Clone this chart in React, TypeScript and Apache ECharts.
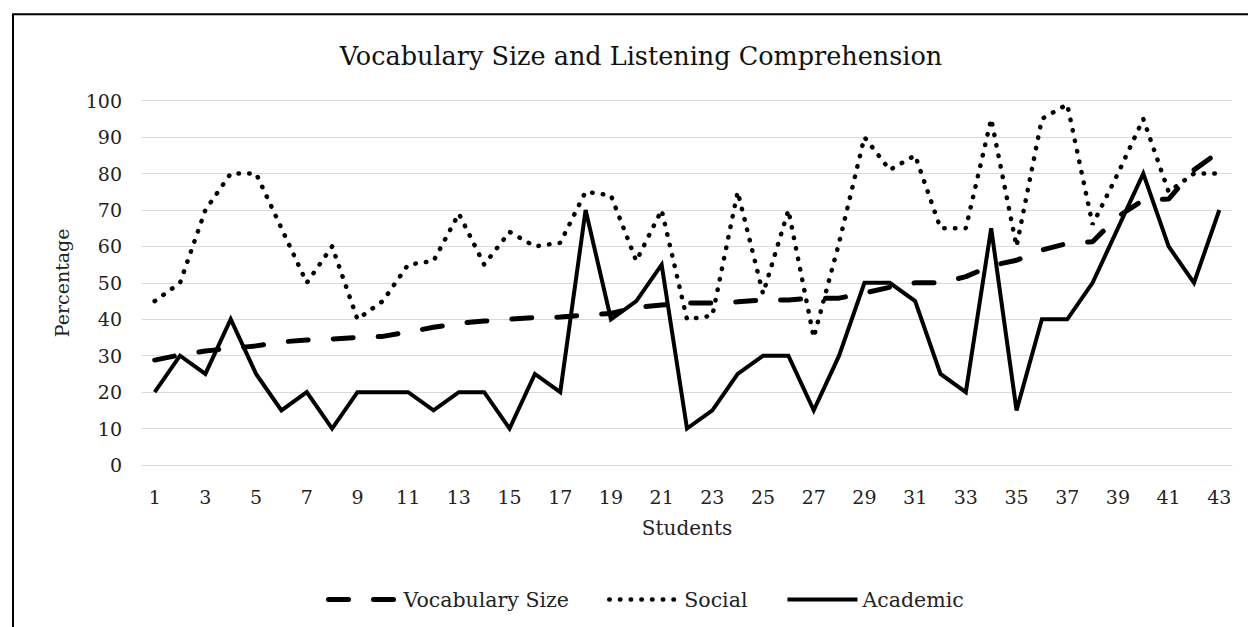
import React, { useEffect, useRef } from "react";
import * as echarts from "echarts";

const students: string[] = Array.from({ length: 43 }, (_, i) => String(i + 1));

const vocabularySize: number[] = [
  28.8, 30.2, 31.3, 32, 32.7, 33.8, 34.3, 34.6, 35, 35.3,
  36.5, 37.8, 38.9, 39.5, 40, 40.5, 40.6, 41.2, 41.6, 43.3,
  43.9, 44.5, 44.5, 44.8, 45.3, 45.3, 45.8, 45.8, 47.2, 48.8,
  50, 50, 51.7, 54.7, 56.2, 59, 60.8, 61.3, 68.2, 72.7,
  73, 81, 86,
];

const social: number[] = [
  45, 50, 70, 80, 80, 65, 50, 60, 40, 45,
  55, 56, 69, 55, 64, 60, 61, 75, 74, 56,
  70, 40, 41, 75, 47, 70, 35, 61, 90, 81,
  85, 65, 65, 95, 60, 95, 99, 66, 80, 95,
  75, 80, 80,
];

const academic: number[] = [
  20, 30, 25, 40, 25, 15, 20, 10, 20, 20,
  20, 15, 20, 20, 10, 25, 20, 70, 40, 45,
  55, 10, 15, 25, 30, 30, 15, 30, 50, 50,
  45, 25, 20, 65, 15, 40, 40, 50, 65, 80,
  60, 50, 70,
];

const FONT = "DejaVu Serif";

export default function App() {
  const ref = useRef<HTMLDivElement>(null);
  useEffect(() => {
    if (!ref.current) return;
    const chart = echarts.init(ref.current, null, { renderer: "svg" });
    chart.setOption({
      animation: false,
      backgroundColor: "#ffffff",
      title: {
        text: "Vocabulary Size and Listening Comprehension",
        left: 636,
        top: 38,
        textAlign: "center",
        textStyle: { fontFamily: FONT, fontSize: 25.5, fontWeight: "normal", color: "#111" },
      },
      graphic: [
        {
          type: "rect",
          shape: { x: 13, y: 14.3, width: 1300, height: 700 },
          style: { fill: "none", stroke: "#000", lineWidth: 2 },
          silent: true,
        },
      ],
      legend: {
        left: 321,
        top: 584,
        itemWidth: 70,
        itemHeight: 14,
        itemGap: 38,
        itemStyle: { opacity: 0 },
        textStyle: { fontFamily: FONT, fontSize: 20.5, color: "#222" },
        data: [
          { name: "Vocabulary Size", lineStyle: { width: 5 } },
          { name: "Social", lineStyle: { width: 4.5 } },
          { name: "Academic", lineStyle: { width: 4 } },
        ],
      },
      grid: { left: 142, right: 16, top: 100.7, bottom: 162 },
      xAxis: {
        type: "category",
        data: students,
        boundaryGap: true,
        name: "Students",
        nameLocation: "middle",
        nameGap: 53,
        nameTextStyle: { fontFamily: FONT, fontSize: 20, color: "#222" },
        axisLine: { show: true, lineStyle: { color: "#d9d9d9", width: 1 } },
        axisTick: { show: false },
        axisLabel: { interval: 1, margin: 22, fontFamily: FONT, fontSize: 19, color: "#222" },
      },
      yAxis: {
        type: "value",
        min: 0,
        max: 100,
        interval: 10,
        name: "Percentage",
        nameLocation: "middle",
        nameRotate: 90,
        nameGap: 71,
        nameTextStyle: { fontFamily: FONT, fontSize: 19, color: "#222" },
        axisLine: { show: false },
        axisTick: { show: false },
        splitLine: { lineStyle: { color: "#d9d9d9", width: 1 } },
        axisLabel: { margin: 20, fontFamily: FONT, fontSize: 19, color: "#222" },
      },
      series: [
        {
          name: "Vocabulary Size",
          type: "line",
          data: vocabularySize,
          symbol: "none",
          lineStyle: { color: "#000", width: 5, type: [20, 25], cap: "round" },
          itemStyle: { color: "#000" },
          z: 3,
        },
        {
          name: "Social",
          type: "line",
          data: social,
          symbol: "none",
          lineStyle: { color: "#000", width: 4.5, type: [0.5, 10.2], cap: "round" },
          itemStyle: { color: "#000" },
          z: 2,
        },
        {
          name: "Academic",
          type: "line",
          data: academic,
          symbol: "none",
          lineStyle: { color: "#000", width: 4, type: "solid", join: "miter" },
          itemStyle: { color: "#000" },
          z: 4,
        },
      ],
    });
    return () => chart.dispose();
  }, []);
  return (
    <div
      ref={ref}
      style={{ position: "fixed", left: 0, top: 0, width: 1248, height: 627, background: "#fff" }}
    />
  );
}
